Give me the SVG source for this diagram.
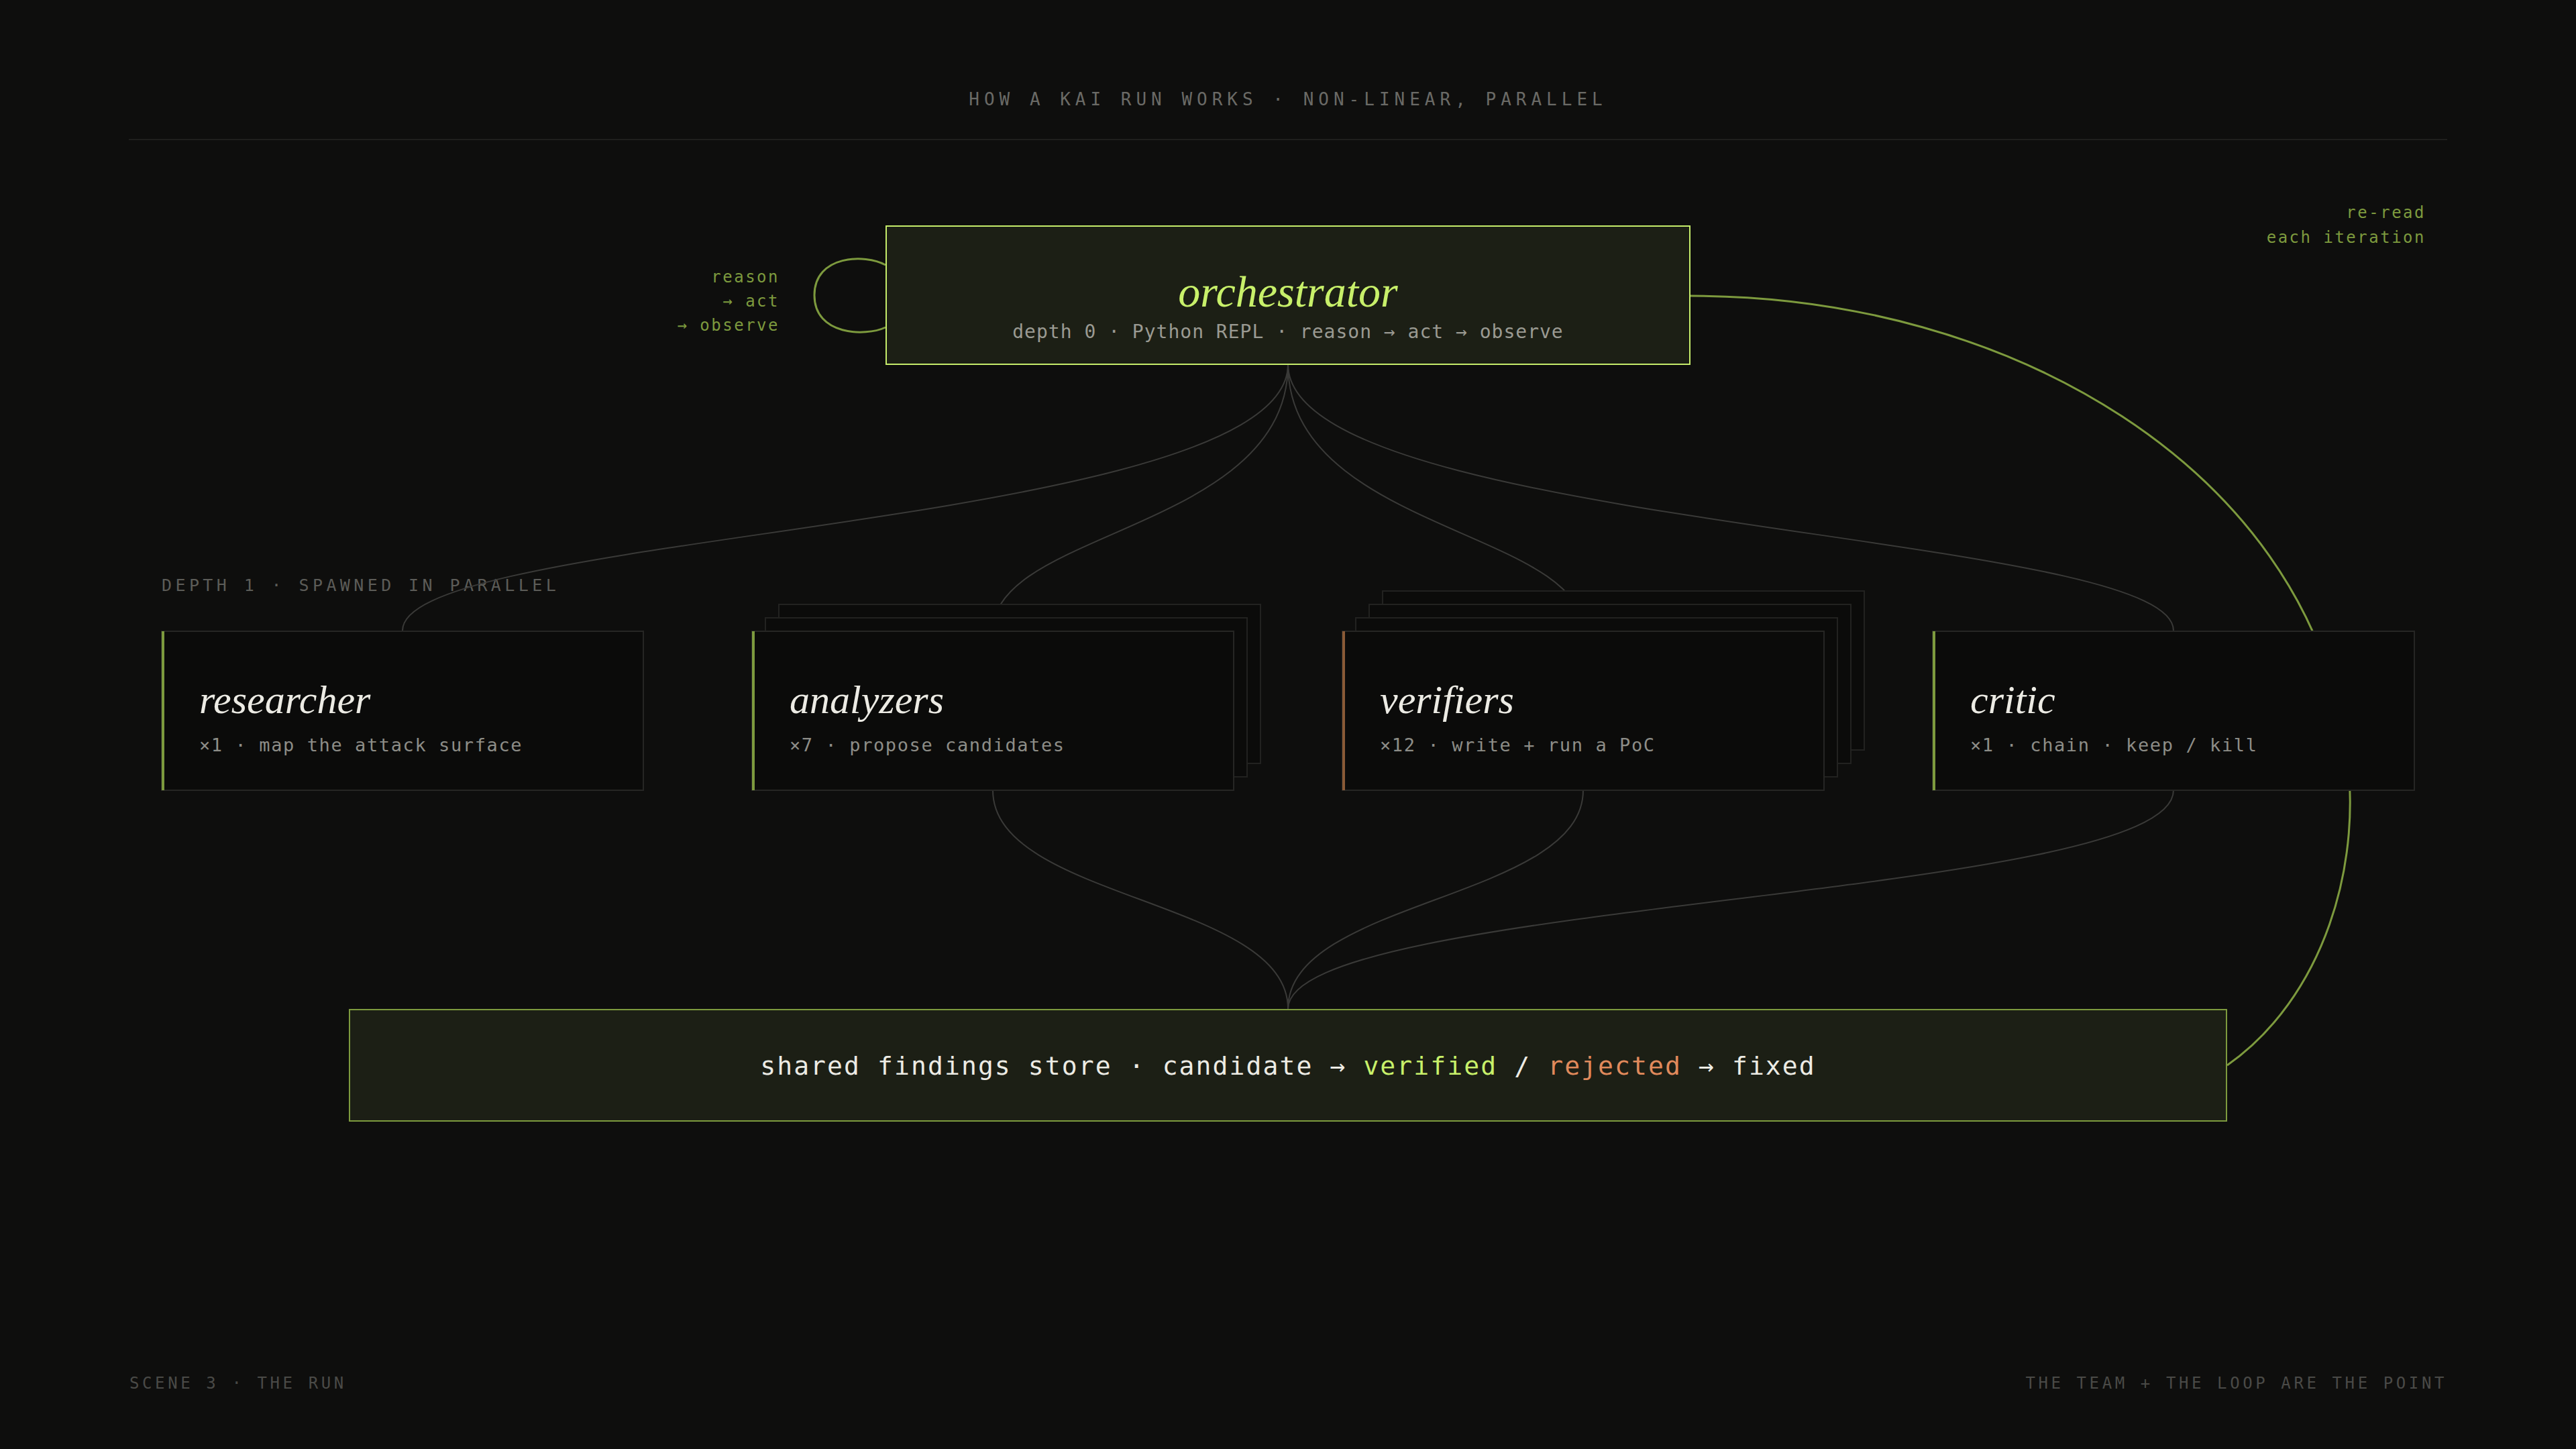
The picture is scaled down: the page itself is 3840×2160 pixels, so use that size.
<svg xmlns="http://www.w3.org/2000/svg" width="3840" height="2160" viewBox="0 0 3840 2160">
<style>
.mono{font-family:"DejaVu Sans Mono","Liberation Mono",monospace}
.serif{font-family:"Liberation Serif","DejaVu Serif",serif;font-style:italic}
.cap{font-size:26px;letter-spacing:7px;fill:#6a6a66}
.foot{font-size:24px;letter-spacing:4.6px;fill:#4a4a47}
.olive{fill:#7d9a3e}
.node{fill:#0b0b0a;stroke:#262624;stroke-width:2}
.back{fill:#0b0b0a;stroke:#222220;stroke-width:2}
.title{font-size:60px;fill:#ecebe4}
.sub{font-size:27px;letter-spacing:1.6px;fill:#8d8d87}
.conn{fill:none;stroke:#3a3a38;stroke-width:2}
.loop{fill:none;stroke:#7d9a3e;stroke-width:3}
</style>
<rect width="3840" height="2160" fill="#0e0e0d"/>
<text class="mono cap" x="1920" y="157" text-anchor="middle">HOW A KAI RUN WORKS · NON-LINEAR, PARALLEL</text>
<line x1="192" y1="208" x2="3648" y2="208" stroke="#1f1f1d" stroke-width="2"/>
<text class="mono cap" x="241" y="881" style="font-size:25px;letter-spacing:5.4px;fill:#5c5c58">DEPTH 1 · SPAWNED IN PARALLEL</text>
<g id="connectors">
<path class="conn" d="M1920 543 C1920 790 600 790 600 940"/>
<path class="conn" d="M1920 543 C1920 790 1480 790 1480 940"/>
<path class="conn" d="M1920 543 C1920 790 2360 790 2360 940"/>
<path class="conn" d="M1920 543 C1920 790 3240 790 3240 940"/>
<path class="conn" d="M1480 1178 C1480 1341 1920 1341 1920 1504"/>
<path class="conn" d="M2360 1178 C2360 1341 1920 1341 1920 1504"/>
<path class="conn" d="M3240 1178 C3240 1341 1920 1341 1920 1504"/>
<path class="loop" d="M1320 395 C1290 378 1214 380 1214 440 C1214 500 1290 502 1320 488"/>
<path class="loop" d="M2520 441 C3000 441 3430 700 3495 1100 C3528 1290 3460 1490 3320 1588"/>
</g>
<g id="loop-label">
<text class="mono olive" x="1162" y="421" text-anchor="end" style="font-size:24px;letter-spacing:2.5px">reason</text>
<text class="mono olive" x="1162" y="457" text-anchor="end" style="font-size:24px;letter-spacing:2.5px">→ act</text>
<text class="mono olive" x="1162" y="493" text-anchor="end" style="font-size:24px;letter-spacing:2.5px">→ observe</text>
</g>
<g id="reread-label">
<text class="mono olive" x="3616" y="325" text-anchor="end" style="font-size:24px;letter-spacing:2.5px">re-read</text>
<text class="mono olive" x="3616" y="362" text-anchor="end" style="font-size:24px;letter-spacing:2.5px">each iteration</text>
</g>
<g id="orchestrator">
<rect x="1321" y="337" width="1198" height="206" fill="#1c1f15" stroke="#c5ec6a" stroke-width="2"/>
<text class="serif" x="1920" y="457" text-anchor="middle" style="font-size:66px;fill:#c8f06a">orchestrator</text>
<text class="mono" x="1920" y="504" text-anchor="middle" style="font-size:28px;letter-spacing:1px;fill:#9a9a92">depth 0 · Python REPL · reason → act → observe</text>
</g>
<g id="researcher">
<rect class="node" x="241" y="941" width="718" height="237"/>
<rect x="241" y="941" width="4" height="237" fill="#7d9a3e"/>
<text class="serif title" x="297" y="1063">researcher</text>
<text class="mono sub" x="297" y="1120">×1 · map the attack surface</text>
</g>
<g id="analyzers">
<rect class="back" x="1161" y="901" width="718" height="237"/>
<rect class="back" x="1141" y="921" width="718" height="237"/>
<rect class="node" x="1121" y="941" width="718" height="237"/>
<rect x="1121" y="941" width="4" height="237" fill="#7d9a3e"/>
<text class="serif title" x="1177" y="1063">analyzers</text>
<text class="mono sub" x="1177" y="1120">×7 · propose candidates</text>
</g>
<g id="verifiers">
<rect class="back" x="2061" y="881" width="718" height="237"/>
<rect class="back" x="2041" y="901" width="718" height="237"/>
<rect class="back" x="2021" y="921" width="718" height="237"/>
<rect class="node" x="2001" y="941" width="718" height="237"/>
<rect x="2001" y="941" width="4" height="237" fill="#8a5a36"/>
<text class="serif title" x="2057" y="1063">verifiers</text>
<text class="mono sub" x="2057" y="1120">×12 · write + run a PoC</text>
</g>
<g id="critic">
<rect class="node" x="2881" y="941" width="718" height="237"/>
<rect x="2881" y="941" width="4" height="237" fill="#7d9a3e"/>
<text class="serif title" x="2937" y="1063">critic</text>
<text class="mono sub" x="2937" y="1120">×1 · chain · keep / kill</text>
</g>
<g id="findings">
<rect x="521" y="1505" width="2798" height="166" fill="#1c1f15" stroke="#7d9a3e" stroke-width="2"/>
<text class="mono" x="1920" y="1602" text-anchor="middle" style="font-size:38px;letter-spacing:2.1px;fill:#ecebe4">shared findings store · candidate → <tspan fill="#c8f06a">verified</tspan> / <tspan fill="#e08a5c">rejected</tspan> → fixed</text>
</g>
<text class="mono foot" x="193" y="2070">SCENE 3 · THE RUN</text>
<text class="mono foot" x="3648" y="2070" text-anchor="end">THE TEAM + THE LOOP ARE THE POINT</text>
</svg>
